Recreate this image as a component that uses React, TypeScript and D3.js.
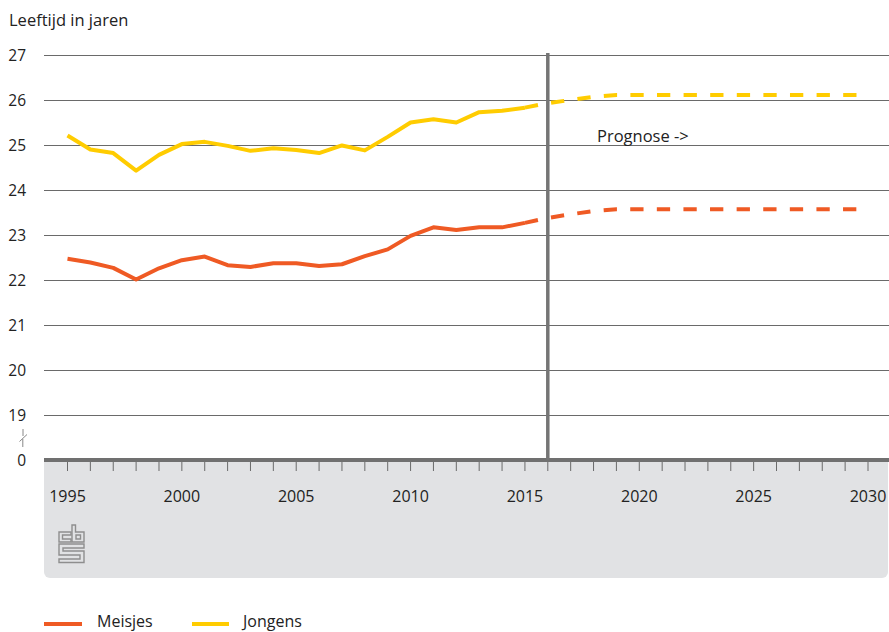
import React from 'react';
import * as d3 from 'd3';

// waargenomen jaren
const histYears = [1995, 1996, 1997, 1998, 1999, 2000, 2001, 2002, 2003, 2004, 2005, 2006, 2007, 2008, 2009, 2010, 2011, 2012, 2013, 2014, 2015];
const meisjes = [22.47, 22.39, 22.27, 22.01, 22.26, 22.44, 22.52, 22.33, 22.29, 22.37, 22.37, 22.31, 22.35, 22.53, 22.68, 22.98, 23.17, 23.11, 23.17, 23.17, 23.27];
const jongens = [25.21, 24.9, 24.82, 24.43, 24.78, 25.02, 25.07, 24.98, 24.87, 24.93, 24.89, 24.82, 24.99, 24.88, 25.18, 25.5, 25.57, 25.5, 25.73, 25.76, 25.83];

// prognose
const progYears = [2015, 2016, 2017, 2018, 2019, 2020, 2021, 2022, 2023, 2024, 2025, 2026, 2027, 2028, 2029, 2030];
const meisjesProg = [23.27, 23.38, 23.46, 23.53, 23.57, 23.57, 23.57, 23.57, 23.57, 23.57, 23.57, 23.57, 23.57, 23.57, 23.57, 23.57];
const jongensProg = [25.83, 25.93, 26.0, 26.07, 26.11, 26.11, 26.11, 26.11, 26.11, 26.11, 26.11, 26.11, 26.11, 26.11, 26.11, 26.11];

const yTicks = [19, 20, 21, 22, 23, 24, 25, 26, 27];
const yBase = 18; // shown as "0" (broken axis)
const xTickYears = [1995, 1996, 1997, 1998, 1999, 2000, 2001, 2002, 2003, 2004, 2005, 2006, 2007, 2008, 2009, 2010, 2011, 2012, 2013, 2014, 2015, 2016, 2017, 2018, 2019, 2020, 2021, 2022, 2023, 2024, 2025, 2026, 2027, 2028, 2029, 2030];
const xLabels = [1995, 2000, 2005, 2010, 2015, 2020, 2025, 2030];
const splitYear = 2016;

const ORANGE = '#ef5a24';
const YELLOW = '#ffcc00';
const GRID = '#6a6a6a';
const TEXT = '#222';
const FONT = '"Open Sans", sans-serif';

const width = 889;
const height = 632;
const left = 44;

const App = () => {
    const x = d3.scaleLinear().domain([1995, 2030]).range([67.5, 868]);
    const y = d3.scaleLinear().domain([yBase, 27]).range([460, 55]);

    const line = d3
        .line<[number, number]>()
        .x((d) => x(d[0]))
        .y((d) => y(d[1]));

    const zip = (xs: number[], vs: number[]) => xs.map((v, i) => [v, vs[i]] as [number, number]);

    return (
        <svg
            width={width}
            height={height}
            style={{ position: 'absolute', left: 0, top: 0, background: '#fff' }}
            fontFamily={FONT}
        >
            {/* title */}
            <text x={9} y={26} fontSize={16.5} fill={TEXT}>Leeftijd in jaren</text>

            {/* grey panel under the axis */}
            <rect x={left} y={450} width={width - left - 1} height={128} rx={6} fill="#e1e2e4" />
            <rect x={left} y={440} width={width - left} height={21} fill="#fff" />

            {/* gridlines */}
            {yTicks.map((t) => (
                <g key={t}>
                    <line x1={left} x2={width} y1={y(t) + 0.5} y2={y(t) + 0.5} stroke={GRID} strokeWidth={1} shapeRendering="crispEdges" />
                    <text x={26} y={y(t)} dy="0.36em" textAnchor="end" fontSize={15.5} fill={TEXT}>{t}</text>
                </g>
            ))}
            <text x={26} y={y(yBase)} dy="0.36em" textAnchor="end" fontSize={15.5} fill={TEXT}>0</text>

            {/* axis break mark */}
            <path d="M23,429 V436 M19.5,441.5 L27,434.5 M22.8,439 V447" stroke="#888" strokeWidth={1} fill="none" />

            {/* x axis */}
            <line x1={left} x2={width} y1={y(yBase)} y2={y(yBase)} stroke="#707070" strokeWidth={4} />
            {xTickYears.map((t) => (
                <line key={t} x1={x(t)} x2={x(t)} y1={462} y2={471} stroke="#6a6a6a" strokeWidth={1} />
            ))}
            {xLabels.map((t) => (
                <text key={t} x={x(t)} y={501.5} textAnchor="middle" fontSize={16} fill={TEXT}>{t}</text>
            ))}

            {/* cbs logo */}
            <g transform="translate(59,525)" fill="none" stroke="#8e8e8e" strokeWidth={1.4}>
                <path d="M12,7 H0 V17 H12 V14 H3.5 V10 H12 Z" />
                <path d="M13,0 H16.5 V7 H25 V17 H13 Z" />
                <path d="M17,10 H21.5 V14 H17 Z" />
                <path d="M0,19 H25 V23 H4 V26 H25 V37.5 H0 V34 H21 V30 H0 Z" />
            </g>

            {/* forecast separator */}
            <line x1={x(splitYear)} x2={x(splitYear)} y1={53} y2={y(yBase)} stroke="#757575" strokeWidth={3.5} />
            <text x={597} y={142} fontSize={16.5} fill={TEXT}>Prognose -&gt;</text>

            {/* series */}
            <path d={line(zip(progYears, meisjesProg)) || ''} fill="none" stroke={ORANGE} strokeWidth={4} strokeDasharray="13.3,13.3" />
            <path d={line(zip(progYears, jongensProg)) || ''} fill="none" stroke={YELLOW} strokeWidth={4} strokeDasharray="13.3,13.3" />
            <path d={line(zip(histYears, meisjes)) || ''} fill="none" stroke={ORANGE} strokeWidth={4} strokeLinejoin="round" />
            <path d={line(zip(histYears, jongens)) || ''} fill="none" stroke={YELLOW} strokeWidth={4} strokeLinejoin="round" />

            {/* legend */}
            <line x1={44} x2={82} y1={624} y2={624} stroke={ORANGE} strokeWidth={4} />
            <text x={97} y={627} fontSize={16} fill={TEXT}>Meisjes</text>
            <line x1={192} x2={229} y1={624} y2={624} stroke={YELLOW} strokeWidth={4} />
            <text x={243} y={627} fontSize={16} fill={TEXT}>Jongens</text>
        </svg>
    );
};

export default App;
